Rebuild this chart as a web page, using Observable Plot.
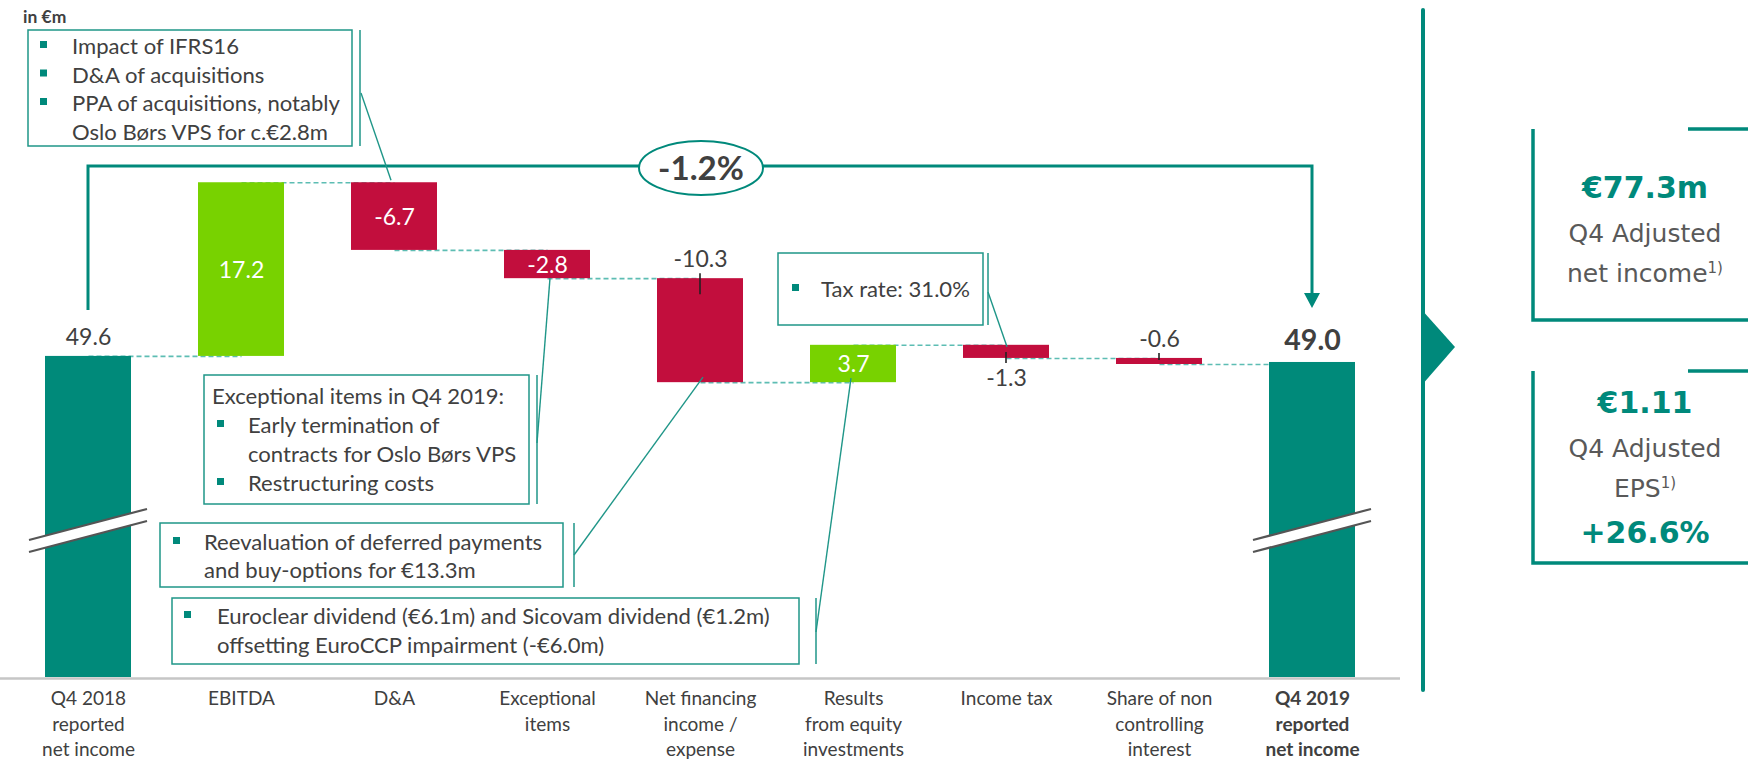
<!DOCTYPE html>
<html>
<head>
<meta charset="utf-8">
<script src="https://cdn.jsdelivr.net/npm/d3@7"></script>
<script src="https://cdn.jsdelivr.net/npm/@observablehq/plot@0.6"></script>
<style>
  html, body { margin: 0; padding: 0; background: #fff; }
  #chart { width: 1748px; height: 760px; overflow: hidden; }
  #chart svg { display: block; background: #fff; }
</style>
</head>
<body>
<div id="chart"></div>
<script>
// ---------------- DATA ----------------
const categories = [
  "Q4 2018\nreported\nnet income",
  "EBITDA",
  "D&A",
  "Exceptional\nitems",
  "Net financing\nincome /\nexpense",
  "Results\nfrom equity\ninvestments",
  "Income tax",
  "Share of non\ncontrolling\ninterest",
  "Q4 2019\nreported\nnet income"
];
const values = [49.6, 17.2, -6.7, -2.8, -10.3, 3.7, -1.3, -0.6, 49.0];
const isTotal = [true, false, false, false, false, false, false, false, true];
const valueLabels = ["49.6", "17.2", "-6.7", "-2.8", "-10.3", "3.7", "-1.3", "-0.6", "49.0"];
const labelPlacement = ["above", "inside", "inside", "inside", "above", "inside", "below", "above", "above"];
const axisBreakValue = 17.8;   // value at the (broken) baseline
const axisTopValue = 84.85;    // value at the top of the picture
const changeLabel = "-1.2%";
const unitLabel = "in €m";

const notesText = [
  [["", "Impact of IFRS16", true], ["", "D&A of acquisitions", true], ["", "PPA of acquisitions, notably", true], ["", "Oslo Børs VPS for c.€2.8m", false]],
  [["head", "Exceptional items in Q4 2019:", false], ["", "Early termination of", true], ["", "contracts for Oslo Børs VPS", false], ["", "Restructuring costs", true]],
  [["", "Reevaluation of deferred payments", true], ["", "and buy-options for €13.3m", false]],
  [["", "Euroclear dividend (€6.1m) and Sicovam dividend (€1.2m)", true], ["", "offsetting EuroCCP impairment (-€6.0m)", false]],
  [["", "Tax rate: 31.0%", true]]
];
const kpiBig = ["€77.3m", "€1.11"];
const kpiSub = [["Q4 Adjusted", "net income"], ["Q4 Adjusted", "EPS"]];
const kpiGrowth = "+26.6%";

// ---------------- derived rows ----------------
let run = 0;
const rows = categories.map((c, i) => {
  let y1, y2;
  if (isTotal[i]) { y1 = axisBreakValue; y2 = values[i]; run = values[i]; }
  else { y1 = run; y2 = run + values[i]; run = y2; }
  return {
    category: c, i, y1, y2,
    lo: Math.min(y1, y2), hi: Math.max(y1, y2), mid: (y1 + y2) / 2,
    end: y2, label: valueLabels[i], place: labelPlacement[i],
    kind: isTotal[i] ? "total" : values[i] >= 0 ? "up" : "down"
  };
});
const connectors = rows.slice(0, -1).map((r, i) => ({from: r.category, to: rows[i + 1].category, level: r.end}));

// ---------------- font fitting (Calibri-like sizes mapped to Lato) ----------------
const ctx = document.createElement("canvas").getContext("2d");
ctx.font = "100px Lato";
let f = (269 / (ctx.measureText("PPA of acquisitions, notably").width / 100)) / 24;
if (!(f > 0.7 && f < 1.2)) f = 0.92;
const fs = s => +(s * f).toFixed(2);

const TEAL = "#00897b";
const LINE = "#1f9688";
const GREY = "#404040";
const COLORS = {total: "#008a7a", up: "#78d200", down: "#c20e3d"};

const axisFont = fs(20.7);
const valFont = fs(25);

// ---------------- plot ----------------
const plot = Plot.plot({
  width: 1748,
  height: 760,
  marginTop: 0,
  marginBottom: 83,
  marginLeft: 0,
  marginRight: 348,
  x: {type: "band", domain: categories, paddingInner: 0.44, paddingOuter: 0.28, axis: null},
  y: {domain: [axisBreakValue, axisTopValue], axis: null},
  style: {fontFamily: "Lato", overflow: "visible", background: "#fff"},
  marks: [
    Plot.link(connectors, {x1: "from", x2: "to", y1: "level", y2: "level", stroke: "#5dbdb3", strokeWidth: 1.6, strokeDasharray: "5,3"}),
    Plot.barY(rows.filter(d => d.kind === "total"), {x: "category", y1: "y1", y2: "y2", fill: COLORS.total}),
    Plot.barY(rows.filter(d => d.kind === "up"), {x: "category", y1: "y1", y2: "y2", fill: COLORS.up}),
    Plot.barY(rows.filter(d => d.kind === "down"), {x: "category", y1: "y1", y2: "y2", fill: COLORS.down}),
    Plot.ruleY([axisBreakValue], {stroke: "#c6c6c6", strokeWidth: 2.5, dy: 1}),
    Plot.text(rows.filter(d => d.place === "inside"), {x: "category", y: "mid", text: "label", fill: "white", fontSize: valFont, dy: 1}),
    Plot.text(rows.filter(d => d.place === "above" && d.kind !== "total"), {x: "category", y: "hi", text: "label", fill: GREY, fontSize: valFont, dy: -19}),
    Plot.text(rows.filter(d => d.place === "above" && d.i === 0), {x: "category", y: "hi", text: "label", fill: GREY, fontSize: valFont, dy: -19}),
    Plot.text(rows.filter(d => d.place === "above" && d.kind === "total" && d.i > 0), {x: "category", y: "hi", text: "label", fill: GREY, fontSize: fs(31), fontWeight: "bold", dy: -22}),
    Plot.text(rows.filter(d => d.place === "below"), {x: "category", y: "lo", text: "label", fill: GREY, fontSize: valFont, dy: 20}),
    Plot.text(rows.slice(0, -1), {x: "category", y: () => axisBreakValue, text: "category", fill: GREY, fontSize: axisFont, lineAnchor: "top", lineHeight: 25.2 / axisFont, dy: 10}),
    Plot.text(rows.slice(-1), {x: "category", y: () => axisBreakValue, text: "category", fill: GREY, fontSize: axisFont, fontWeight: "bold", lineAnchor: "top", lineHeight: 25.2 / axisFont, dy: 10})
  ]
});
document.getElementById("chart").appendChild(plot);

// ---------------- decorations derived from the scales ----------------
const xs = plot.scale("x"), ys = plot.scale("y");
const bw = xs.bandwidth;
const cx = i => xs.apply(categories[i]) + bw / 2;
const Y = v => ys.apply(v);
const svg = d3.select(plot);
const g = svg.append("g").attr("text-anchor", "start");

// label leader ticks (pixel extents around the bar edge)
const tickExtent = {4: [-5, 16], 6: [-6, 5], 7: [-5, 2]};
Object.entries(tickExtent).forEach(([i, [a, b]]) => {
  const r = rows[+i];
  const edge = r.place === "below" ? Y(r.lo) : Y(r.hi);
  g.append("line").attr("x1", cx(+i)).attr("x2", cx(+i)).attr("y1", edge + a).attr("y2", edge + b)
    .attr("stroke", "#222").attr("stroke-width", 1.6);
});

// axis break marks on total bars
[0, 8].forEach(i => {
  const c = cx(i), h = 59, yc = 530;
  const p = [[c - h, yc + 10], [c + h, yc - 21], [c + h, yc - 9], [c - h, yc + 22]];
  g.append("polygon").attr("points", p.map(d => d.join(",")).join(" ")).attr("fill", "#fff");
  g.append("line").attr("x1", p[0][0]).attr("y1", p[0][1]).attr("x2", p[1][0]).attr("y2", p[1][1]).attr("stroke", "#555").attr("stroke-width", 2.2);
  g.append("line").attr("x1", p[3][0]).attr("y1", p[3][1]).attr("x2", p[2][0]).attr("y2", p[2][1]).attr("stroke", "#555").attr("stroke-width", 2.2);
});

// bracket with -1.2%
{
  const x0 = cx(0), x1 = cx(8), yTop = 166;
  const yL = Y(values[0]) - 46, yR = Y(values[8]) - 54;
  g.append("path").attr("d", `M${x0},${yL} V${yTop} H${x1} V${yR - 14}`)
    .attr("fill", "none").attr("stroke", TEAL).attr("stroke-width", 3);
  g.append("path").attr("d", `M${x1 - 8},${yR - 15} L${x1 + 8},${yR - 15} L${x1},${yR} Z`).attr("fill", TEAL);
  const ex = (x0 + x1) / 2 + 1;
  g.append("ellipse").attr("cx", ex).attr("cy", yTop + 2).attr("rx", 62).attr("ry", 27)
    .attr("fill", "#fff").attr("stroke", TEAL).attr("stroke-width", 2);
  g.append("text").attr("x", ex).attr("y", yTop + 2).attr("dy", "0.35em").attr("text-anchor", "middle")
    .attr("font-family", "Lato").attr("font-weight", "bold").attr("font-size", fs(36)).attr("fill", GREY).text(changeLabel);
}

// unit label
g.append("text").attr("x", 23).attr("y", 23).attr("text-anchor", "start").attr("font-family", "Lato").attr("font-weight", "bold")
  .attr("font-size", fs(19)).attr("fill", GREY).text(unitLabel);

// annotation callouts
const noteLayout = [
  {box: [28, 30, 324, 116], accent: 360, from: [361, 93], target: [2, "top", -3, -2], bulletX: 40, textX: 72, headX: 72, base: 54, step: 28.5},
  {box: [204, 375, 325, 129], accent: 537, from: [537, 443], target: [3, "bottom", 3, 0], bulletX: 217, textX: 248, headX: 212, base: 404, step: 29},
  {box: [160, 523, 403, 64], accent: 574, from: [574, 555], target: [4, "bottom", 3, -5], bulletX: 173, textX: 204, headX: 204, base: 550, step: 28},
  {box: [172, 598, 627, 66], accent: 816, from: [816, 632], target: [5, "bottom", -2, -4], bulletX: 184, textX: 217, headX: 217, base: 624, step: 29},
  {box: [778, 253, 205, 72], accent: 988, from: [988, 292], target: [6, "top", 1, 2], bulletX: 792, textX: 821, headX: 821, base: 297, step: 28}
];
noteLayout.forEach((L, k) => {
  const [bx, by, bw2, bh] = L.box;
  g.append("rect").attr("x", bx).attr("y", by).attr("width", bw2).attr("height", bh)
    .attr("fill", "#fff").attr("stroke", LINE).attr("stroke-width", 1.5);
  g.append("line").attr("x1", L.accent).attr("x2", L.accent).attr("y1", by).attr("y2", by + bh)
    .attr("stroke", LINE).attr("stroke-width", 1.5);
  const [ti, where, dx, dy] = L.target;
  const r = rows[ti];
  const ty = (where === "top" ? Y(r.hi) : where === "bottom" ? Y(r.lo) : Y(r.mid)) + dy;
  g.append("line").attr("x1", L.from[0]).attr("y1", L.from[1]).attr("x2", cx(ti) + dx).attr("y2", ty)
    .attr("stroke", LINE).attr("stroke-width", 1.4);
  const size = fs(24);
  notesText[k].forEach(([kind, str, bullet], j) => {
    const yb = L.base + j * L.step;
    if (bullet) g.append("rect").attr("x", L.bulletX).attr("y", yb - 13).attr("width", 7).attr("height", 7).attr("fill", TEAL);
    g.append("text").attr("x", kind === "head" ? L.headX : L.textX).attr("y", yb).attr("text-anchor", "start")
      .attr("font-family", "Lato").attr("font-size", size).attr("fill", GREY).text(str);
  });
});

// right panel
{
  const rp = g.append("g");
  rp.append("line").attr("x1", 1423).attr("x2", 1423).attr("y1", 10).attr("y2", 690)
    .attr("stroke", TEAL).attr("stroke-width", 4).attr("stroke-linecap", "round");
  rp.append("path").attr("d", "M1421,309 L1455,347 L1421,386 Z").attr("fill", TEAL);
  const boxes = [[129, 320], [371, 563]];
  boxes.forEach(([t, b]) => {
    rp.append("path").attr("d", `M1688,${t} H1750 M1533,${t} V${b} H1750`)
      .attr("fill", "none").attr("stroke", TEAL).attr("stroke-width", 3.5);
  });
  const cxp = 1645;
  const T = (y, size, bold, fill) => rp.append("text").attr("x", cxp).attr("y", y).attr("text-anchor", "middle")
    .attr("font-family", "DejaVu Sans").attr("font-size", size).attr("font-weight", bold ? "bold" : "normal").attr("fill", fill);
  T(198, 30, true, TEAL).text(kpiBig[0]);
  T(242, 25, false, "#595959").text(kpiSub[0][0]);
  const t2 = T(282, 25, false, "#595959");
  t2.append("tspan").text(kpiSub[0][1]);
  t2.append("tspan").attr("font-size", 15).attr("dy", -9).text("1)");
  T(413, 30, true, TEAL).text(kpiBig[1]);
  T(457, 25, false, "#595959").text(kpiSub[1][0]);
  const t4 = T(497, 25, false, "#595959");
  t4.append("tspan").text(kpiSub[1][1]);
  t4.append("tspan").attr("font-size", 15).attr("dy", -9).text("1)");
  T(543, 30, true, TEAL).text(kpiGrowth);
}
</script>
</body>
</html>
